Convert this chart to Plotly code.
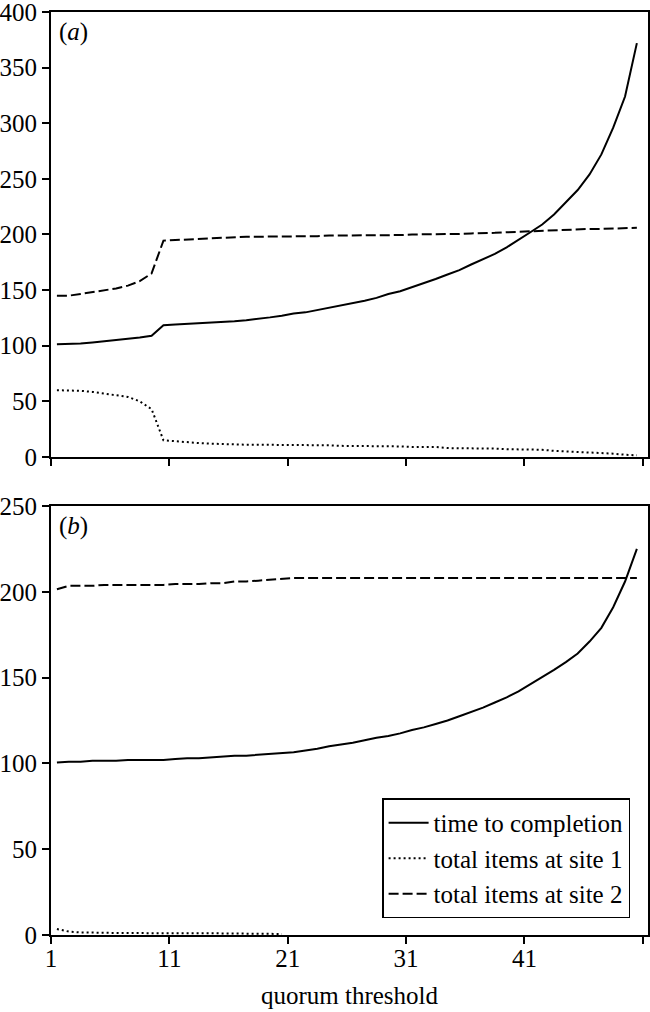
import plotly.graph_objects as go

# quorum thresholds (categories)
threshold = list(range(1, 51))

# panel (a)
a_time = [101.4, 101.4, 102, 103, 104, 105, 106, 107.5, 109, 118.5,
          119, 119.5, 120, 120.5, 121, 122, 123, 124, 125.5, 127,
          129, 130, 132, 134, 136, 138, 140.5, 143, 146.5, 149,
          152.5, 156, 160, 164, 168, 173, 178, 182.5, 188.5, 195,
          202, 209, 218, 229, 240, 254, 272, 296, 324, 372]
a_site1 = [60, 60, 59.5, 58.5, 57, 56, 54, 50, 43, 15,
           14, 13.5, 12.5, 12, 11.5, 11, 11, 11, 11, 11,
           11, 11, 10.5, 10.5, 10, 10, 10, 10, 9.5, 9.5,
           9, 9, 9, 8, 8, 8, 7.5, 7.5, 7, 7,
           6.5, 6.5, 5.5, 5, 5, 4.5, 4, 3, 2, 1.5]
a_site2 = [145, 145, 146.5, 148, 150, 151.5, 154, 158, 165, 194.5,
           195, 195.5, 196, 197, 197.5, 198, 198, 198, 198, 198,
           198.5, 198.5, 198.5, 199, 199, 199, 199, 199, 199.5, 199.5,
           200, 200, 200, 200.5, 200.5, 201, 201, 201.5, 202, 202.5,
           203, 203.5, 204, 204, 204.5, 205, 205, 205.5, 206, 206]

# panel (b)
b_time = [100.5, 101, 101, 101.5, 101.5, 101.5, 102, 102, 102, 102,
          102.5, 103, 103, 103.5, 104, 104.5, 104.5, 105, 105.5, 106,
          106.5, 107.5, 108.5, 110, 111, 112, 113.5, 115, 116, 117.5,
          119.5, 121, 123, 125, 127.5, 130, 132.5, 135.5, 138.5, 142,
          146, 150, 154.5, 159, 164, 171, 179, 191, 206, 225]
b_site1 = [3.5, 2, 1.5, 1.3, 1.2, 1.2, 1.1, 1.1, 1, 1,
           1, 1, 1, 1, 1, 1, 0.9, 0.9, 0.8, 0.6] + [None] * 30
b_site2 = [201.5, 203.5, 203.5, 203.5, 204, 204, 204, 204, 204, 204,
           204.5, 204.5, 204.5, 205, 205, 206, 206, 206.5, 207, 207.5,
           208, 208, 208, 208, 208, 208, 208, 208, 208, 208,
           208, 208, 208, 208, 208, 208, 208, 208, 208, 208,
           208, 208, 208, 208, 208, 208, 208, 208, 208, 208]

series_names = ["time to completion", "total items at site 1", "total items at site 2"]
x_tick_labels = ["1", "11", "21", "31", "41", ""]
a_y_ticks = [0, 50, 100, 150, 200, 250, 300, 350, 400]
b_y_ticks = [0, 50, 100, 150, 200, 250]

FONT = "Times New Roman, Liberation Serif, DejaVu Serif, serif"
FS = 25
dashes = ["solid", "2px,3px", "10px,4px"]

fig = go.Figure()
for (ys, name, dash) in zip([a_time, a_site1, a_site2], series_names, dashes):
    fig.add_trace(go.Scatter(x=threshold, y=ys, mode="lines", name=name,
                             line=dict(color="black", width=2, dash=dash),
                             xaxis="x", yaxis="y", showlegend=False))
for (ys, name, dash) in zip([b_time, b_site1, b_site2], series_names, dashes):
    fig.add_trace(go.Scatter(x=threshold, y=ys, mode="lines", name=name,
                             line=dict(color="black", width=2, dash=dash),
                             xaxis="x2", yaxis="y2", showlegend=True))

# category-style axis: label k sits at the left boundary of slot k
tickpos = [int(t) - 0.5 if t else threshold[-1] + 0.5 for t in x_tick_labels]
xrange = [threshold[0] - 0.5, threshold[-1] + 0.94]

common_x = dict(range=xrange, tickvals=tickpos, showline=True, linecolor="black",
                linewidth=2, mirror=True, ticks="outside", ticklen=7, tickwidth=2,
                tickcolor="black", showgrid=False, zeroline=False, automargin=False,
                ticklabelstandoff=-7,
                tickfont=dict(family=FONT, size=FS, color="black"))
common_y = dict(showline=True, linecolor="black", linewidth=2, mirror=True,
                ticks="outside", ticklen=7, tickwidth=2, tickcolor="black",
                showgrid=False, zeroline=False, automargin=False,
                ticklabeloverflow="allow",
                tickfont=dict(family=FONT, size=FS, color="black"))

fig.update_layout(
    width=650, height=1012,
    margin=dict(l=51, r=2, t=12, b=77, autoexpand=False),
    paper_bgcolor="white", plot_bgcolor="white",
    font=dict(family=FONT, size=FS, color="black"),
    xaxis=dict(common_x, domain=[0, 1], anchor="y", ticktext=[""] * len(tickpos)),
    yaxis=dict(common_y, domain=[0.5179, 1], anchor="x", range=[0, 400],
               tickvals=a_y_ticks),
    xaxis2=dict(common_x, domain=[0, 1], anchor="y2", ticktext=x_tick_labels,
                title=dict(text="quorum threshold", font=dict(family=FONT, size=FS),
                           standoff=15)),
    yaxis2=dict(common_y, domain=[0, 0.4648], anchor="x2", range=[0, 250],
                tickvals=b_y_ticks),
    legend=dict(x=0.97, y=0.018, xanchor="right", yanchor="bottom",
                bgcolor="white", bordercolor="black", borderwidth=1.5,
                font=dict(family=FONT, size=FS, color="black"),
                tracegroupgap=0, itemwidth=40),
    showlegend=True,
    annotations=[
        dict(text="(<i>a</i>)", xref="x domain", yref="y domain", x=0.01, y=1,
             xanchor="left", yanchor="top", yshift=-4, showarrow=False,
             font=dict(family=FONT, size=FS, color="black")),
        dict(text="(<i>b</i>)", xref="x2 domain", yref="y2 domain", x=0.01, y=1,
             xanchor="left", yanchor="top", yshift=-4, showarrow=False,
             font=dict(family=FONT, size=FS, color="black")),
    ],
)

# remove the browser's default 8px body margin so the figure sits at the page origin
fig.write_html("out.html", config={"displayModeBar": False},
               post_script="document.body.style.margin='0px';")
